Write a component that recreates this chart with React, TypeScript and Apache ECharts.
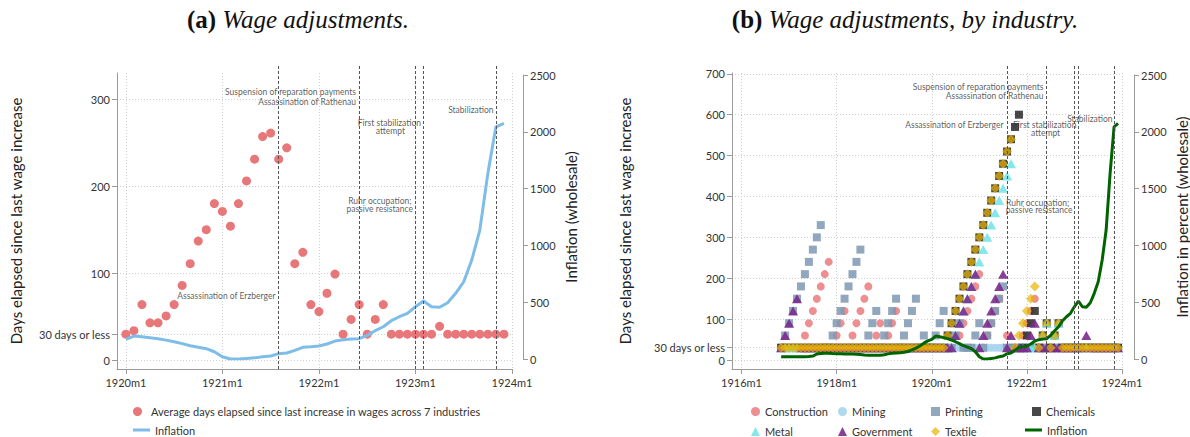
import * as echarts from 'echarts';
import { useEffect, useRef } from 'react';

const FONT = 'Lato, "Open Sans", sans-serif';
const SERIF = '"Liberation Serif", "DejaVu Serif", serif';

// x values are months counted from 1920m1 (= 0)
const LEFT_START = 0; // 1920m1
const RIGHT_START = -38; // 1916m11

// (a) average days since last wage increase, 1920m1 .. 1923m12
const AVG_DAYS = [
  30, 34, 64, 43, 43, 51, 64, 86, 111, 137, 150, 180,
  171, 154, 180, 206, 231, 257, 261, 231, 244, 111, 124, 64,
  56, 77, 99, 30, 47, 64, 30, 47, 64, 30, 30, 30,
  30, 30, 30, 39, 30, 30, 30, 30, 30, 30, 30, 30,
];

// wholesale inflation in percent, 1916m11 .. 1923m12
const INFLATION = [
  20, 20,
  20, 20, 20, 20, 20, 22, 26, 44, 48, 50, 50, 48,
  47, 46, 45, 45, 44, 42, 40, 36, 34, 33, 33, 34,
  38, 45, 50, 53, 56, 60, 66, 80, 95, 115, 140, 160,
  173, 202, 196, 188, 179, 166, 152, 135, 117, 104, 91, 64,
  20, 0, 0, 5, 10, 20, 26, 47, 53, 76, 103, 108,
  114, 132, 158, 170, 175, 179, 208, 249, 284, 337, 372, 402,
  460, 510, 460, 455, 495, 578, 680, 871, 1135, 1634, 2044, 2074,
];
const LEFT_INFLATION = INFLATION.slice(LEFT_START - RIGHT_START);

// (b) days since last increase by industry, 1916m11 .. 1923m12 (30 = "30 days or less")
const CONSTRUCTION = [
  30, 30,
  30, 30, 30, 30, 60, 90, 120, 150, 180, 210, 240, 30,
  60, 90, 120, 30, 60, 90, 120, 150, 180, 30, 60, 90,
  30, 60, 90, 120, 30, 30, 30, 30, 30, 30, 30, 30,
  30, 30, 30, 30, 30, 30, 30, 60, 90, 120, 150, 180,
  210, 30, 60, 90, 120, 150, 30, 60, 30, 30, 30, 60,
  90, 120, 150, 30, 30, 30, 30, 30, 30, 30, 30, 30,
  30, 30, 30, 30, 30, 30, 30, 30, 30, 30, 30, 30,
];
const MINING = [
  30, 30,
  30, 30, 30, 30, 30, 30, 30, 30, 30, 30, 30, 30,
  30, 30, 30, 30, 30, 30, 30, 30, 30, 30, 30, 30,
  30, 30, 30, 30, 30, 30, 30, 30, 30, 30, 30, 30,
  30, 30, 30, 30, 30, 30, 30, 30, 30, 30, 30, 30,
  30, 30, 30, 30, 30, 30, 30, 30, 30, 30, 30, 30,
  30, 30, 30, 30, 30, 30, 30, 30, 30, 30, 30, 30,
  30, 30, 30, 30, 30, 30, 30, 30, 30, 30, 30, 30,
];
const PRINTING = [
  30, 60,
  90, 120, 150, 180, 210, 240, 270, 300, 330, 30, 30, 60,
  90, 120, 150, 180, 210, 240, 270, 30, 60, 90, 120, 30,
  60, 90, 120, 150, 30, 60, 90, 120, 150, 30, 60, 30,
  30, 60, 90, 120, 30, 30, 60, 90, 30, 30, 30, 60,
  90, 30, 60, 90, 120, 150, 180, 30, 30, 30, 30, 30,
  30, 30, 30, 30, 30, 30, 30, 30, 30, 30, 30, 30,
  30, 30, 30, 30, 30, 30, 30, 30, 30, 30, 30, 30,
];
const CHEMICALS = [
  30, 30,
  30, 30, 30, 30, 30, 30, 30, 30, 30, 30, 30, 30,
  30, 30, 30, 30, 30, 30, 30, 30, 30, 30, 30, 30,
  30, 30, 30, 30, 30, 30, 30, 30, 30, 30, 30, 30,
  30, 30, 30, 30, 60, 90, 120, 150, 180, 210, 240, 270,
  300, 330, 360, 390, 420, 450, 480, 510, 540, 570, 600, 30,
  60, 90, 120, 30, 60, 90, 30, 60, 90, 30, 30, 30,
  30, 30, 30, 30, 30, 30, 30, 30, 30, 30, 30, 30,
];
const METAL = [
  30, 30,
  30, 30, 30, 30, 30, 30, 30, 30, 30, 30, 30, 30,
  30, 30, 30, 30, 30, 30, 30, 30, 30, 30, 30, 30,
  30, 30, 30, 30, 30, 30, 30, 30, 30, 30, 30, 30,
  30, 30, 30, 30, 30, 30, 60, 90, 120, 150, 180, 210,
  240, 270, 300, 330, 360, 390, 420, 450, 480, 30, 30, 30,
  30, 30, 30, 30, 60, 90, 30, 60, 90, 30, 30, 30,
  30, 30, 30, 30, 30, 30, 30, 30, 30, 30, 30, 30,
];
const GOVERNMENT = [
  30, 60,
  90, 120, 150, 30, 30, 30, 30, 30, 30, 30, 30, 30,
  30, 30, 30, 30, 30, 30, 30, 30, 30, 30, 30, 30,
  30, 30, 30, 30, 30, 30, 30, 30, 30, 30, 30, 30,
  30, 30, 30, 30, 30, 30, 60, 90, 120, 150, 180, 210,
  30, 60, 90, 120, 150, 180, 210, 30, 60, 30, 30, 30,
  30, 60, 90, 30, 30, 30, 30, 30, 30, 30, 30, 30,
  30, 30, 30, 60, 30, 30, 30, 30, 30, 30, 30, 30,
];
const TEXTILE = [
  30, 30,
  30, 30, 30, 30, 30, 30, 30, 30, 30, 30, 30, 30,
  30, 30, 30, 30, 30, 30, 30, 30, 30, 30, 30, 30,
  30, 30, 30, 30, 30, 30, 30, 30, 30, 30, 30, 30,
  30, 30, 30, 30, 60, 90, 120, 150, 180, 210, 240, 270,
  300, 330, 360, 390, 420, 450, 480, 510, 540, 30, 60, 90,
  120, 150, 180, 30, 60, 90, 30, 60, 90, 30, 30, 30,
  30, 30, 30, 30, 30, 30, 30, 30, 30, 30, 30, 30,
];

const LEFT_X_TICKS = [0, 12, 24, 36, 48];
const RIGHT_X_TICKS = [-48, -24, 0, 24, 48];
const LEFT_Y_TICKS = [0, 30, 100, 200, 300];
const RIGHT_Y_TICKS = [0, 30, 100, 200, 300, 400, 500, 600, 700];

// Erzberger, Rathenau, Ruhr, first stabilization attempt, stabilization
const EVENTS = [19, 29, 36, 37, 46];

const NOTES_A: [number, number, string][] = [
  [28.6, 308, 'Suspension of reparation payments'],
  [28.6, 297, 'Assassination of Rathenau'],
  [18.6, 74, 'Assassination of Erzberger'],
  [36.7, 272, 'First stabilization'],
  [34.7, 263, 'attempt'],
  [35.5, 183, 'Ruhr occupation;'],
  [35.7, 174, 'passive resistance'],
  [45.7, 288, 'Stabilization'],
];
const NOTES_B: [number, number, string][] = [
  [28.2, 667, 'Suspension of reparation payments'],
  [28.2, 646, 'Assassination of Rathenau'],
  [18.1, 576, 'Assassination of Erzberger'],
  [36.5, 576, 'First stabilization'],
  [32.4, 556, 'attempt'],
  [34.7, 385, 'Ruhr occupation;'],
  [35.5, 366, 'passive resistance'],
  [45.6, 590, 'Stabilization'],
];

const INDUSTRIES = [
  { name: 'Construction', values: CONSTRUCTION, symbol: 'circle', size: 8, color: '#ea7a7c', opacity: 0.85 },
  { name: 'Mining', values: MINING, symbol: 'circle', size: 8, color: '#a9d4ee', opacity: 0.9 },
  { name: 'Printing', values: PRINTING, symbol: 'rect', size: 8, color: '#7e98b3', opacity: 0.85 },
  { name: 'Chemicals', values: CHEMICALS, symbol: 'rect', size: 8, color: '#333333', opacity: 0.9 },
  { name: 'Metal', values: METAL, symbol: 'triangle', size: [10, 9], color: '#6fe3ea', opacity: 0.85 },
  { name: 'Government', values: GOVERNMENT, symbol: 'triangle', size: [10, 9], color: '#7b2a8c', opacity: 0.9 },
  { name: 'Textile', values: TEXTILE, symbol: 'diamond', size: [10, 10], color: '#e8b400', opacity: 0.7 },
];

const AVG_NAME = 'Average days elapsed since last increase in wages across 7 industries';

const monthLabel = (v: number) => `${1920 + Math.floor(v / 12)}m${(((v % 12) + 12) % 12) + 1}`;
const daysLabel = (v: number) => (v === 30 ? '30 days or less' : String(v));
const toPoints = (values: number[], start: number) => values.map((v, i) => [start + i, v]);

const AXIS_GREY = '#9a9a9a';
const axisLine = { show: true, onZero: false, lineStyle: { color: AXIS_GREY, width: 1 } };
const tick = { show: true, length: 5, lineStyle: { color: AXIS_GREY } };
const dotted = { show: true, lineStyle: { color: '#cfcfcf', type: [1, 2], width: 1 } };
const tickText = { color: '#333', fontSize: 11, fontFamily: FONT };
const nameText = { color: '#222', fontSize: 15, fontFamily: FONT };

function xMain(gridIndex: number, min: number, ticks: number[]) {
  return {
    gridIndex, type: 'value', min, max: 48,
    axisLine, axisTick: { ...tick, customValues: ticks },
    axisLabel: { ...tickText, customValues: ticks, formatter: monthLabel, margin: 8 },
    splitLine: dotted,
  };
}
function xHidden(gridIndex: number, min: number) {
  return { gridIndex, type: 'value', min, max: 48, show: false };
}
function yDays(gridIndex: number, min: number, max: number, ticks: number[], nameGap: number) {
  return {
    gridIndex, type: 'value', min, max,
    axisLine, axisTick: { ...tick, customValues: ticks },
    axisLabel: { ...tickText, customValues: ticks, formatter: daysLabel, margin: 7 },
    splitLine: dotted,
    name: 'Days elapsed since last wage increase', nameLocation: 'middle', nameGap, nameTextStyle: nameText,
  };
}
function yInflation(gridIndex: number, offset: number, name: string) {
  return {
    gridIndex, type: 'value', position: 'right', offset, min: 0, max: 2500, interval: 500,
    axisLine, axisTick: tick,
    axisLabel: { ...tickText, margin: 7, formatter: (v: number) => String(v) },
    splitLine: { show: false },
    name, nameLocation: 'middle', nameGap: 40, nameTextStyle: nameText,
  };
}
function notesSeries(xi: number, yi: number, notes: [number, number, string][]) {
  return {
    type: 'scatter', xAxisIndex: xi, yAxisIndex: yi, silent: true, clip: false,
    symbolSize: 1, itemStyle: { color: 'rgba(0,0,0,0)' },
    label: {
      show: true, position: 'inside', align: 'right', verticalAlign: 'middle',
      formatter: (p: any) => p.data[2], fontSize: 8.5, lineHeight: 8, color: '#333', fontFamily: FONT,
    },
    data: notes,
    z: 5,
  };
}
function eventsSeries(xi: number, yi: number) {
  return {
    type: 'scatter', xAxisIndex: xi, yAxisIndex: yi, silent: true,
    symbolSize: 0, data: EVENTS.map((m) => [m, 0]),
    markLine: {
      silent: true, symbol: ['none', 'none'], label: { show: false },
      lineStyle: { color: '#555', type: [3, 2], width: 1 },
      data: EVENTS.map((m) => ({ xAxis: m })),
    },
  };
}

const legendBase = {
  orient: 'vertical', itemGap: 9, itemHeight: 9, padding: 0, selectedMode: false,
  textStyle: { color: '#333', fontSize: 11, fontFamily: FONT, lineHeight: 9 },
};
const lineLegend = { ...legendBase, itemWidth: 17, itemHeight: 3, icon: 'rect' };

function buildOption() {
  const grids = [
    { left: 117, top: 73, width: 395, height: 296 },
    { left: 117, top: 75, width: 395, height: 284 },
    { left: 732, top: 73, width: 390, height: 296 },
    { left: 732, top: 75, width: 390, height: 284 },
    { left: 117, top: 65, width: 395, height: 304 },
    { left: 732, top: 65, width: 390, height: 304 },
  ].map((g) => ({ ...g, outerBoundsMode: 'none', containLabel: false }));

  const titleRich = (tag: string, text: string) => ({
    text: `{b|${tag}} {i|${text}}`,
    fontSize: 25, fontFamily: SERIF, fill: '#111',
    rich: {
      b: { fontWeight: 'bold', fontSize: 25, fontFamily: SERIF, fill: '#111' },
      i: { fontStyle: 'italic', fontSize: 25, fontFamily: SERIF, fill: '#111' },
    },
    align: 'center', verticalAlign: 'middle',
  });

  return {
    animation: false,
    backgroundColor: '#fff',
    graphic: [
      { type: 'text', x: 298, y: 19, style: titleRich('(a)', 'Wage adjustments.') },
      { type: 'text', x: 905, y: 19, style: titleRich('(b)', 'Wage adjustments, by industry.') },
    ],
    grid: grids,
    xAxis: [
      xMain(0, -1.1, LEFT_X_TICKS),
      xHidden(1, -1.1),
      xMain(2, -50.4, RIGHT_X_TICKS),
      xHidden(3, -50.4),
      xHidden(4, -1.1),
      xHidden(5, -50.4),
    ],
    yAxis: [
      yDays(0, -10, 330, LEFT_Y_TICKS, 94),
      yInflation(1, 11, 'Inflation (wholesale)'),
      yDays(2, -22, 702, RIGHT_Y_TICKS, 100),
      yInflation(3, 12, 'Inflation in percent (wholesale)'),
      { gridIndex: 4, type: 'value', min: 0, max: 1, show: false },
      { gridIndex: 5, type: 'value', min: 0, max: 1, show: false },
    ],
    legend: [
      { ...legendBase, left: 133, top: 406, itemWidth: 17, data: [AVG_NAME] },
      { ...lineLegend, left: 133, top: 424.5, data: ['Inflation'] },
      { ...legendBase, left: 751, top: 406, itemWidth: 9, data: ['Construction', 'Metal'] },
      { ...legendBase, left: 838, top: 406, itemWidth: 9, data: ['Mining', 'Government'] },
      { ...legendBase, left: 931, top: 406, itemWidth: 9, data: ['Printing', 'Textile'] },
      { ...legendBase, left: 1032, top: 406, itemWidth: 9, data: ['Chemicals'] },
      { ...lineLegend, left: 1025, top: 424.5, data: ['Inflation (b)'], formatter: () => 'Inflation' },
    ],
    series: [
      eventsSeries(4, 4),
      {
        name: AVG_NAME, type: 'scatter', xAxisIndex: 0, yAxisIndex: 0,
        symbol: 'circle', symbolSize: 9, itemStyle: { color: '#e8777a', opacity: 1 },
        data: toPoints(AVG_DAYS, LEFT_START),
      },
      {
        name: 'Inflation', type: 'line', xAxisIndex: 1, yAxisIndex: 1, symbol: 'none',
        lineStyle: { color: '#7dbde8', width: 3 }, itemStyle: { color: '#7dbde8' },
        data: toPoints(LEFT_INFLATION, LEFT_START), z: 3,
      },
      notesSeries(0, 0, NOTES_A),
      eventsSeries(5, 5),
      ...INDUSTRIES.map((ind) => ({
        name: ind.name, type: 'scatter', xAxisIndex: 2, yAxisIndex: 2,
        symbol: ind.symbol, symbolSize: ind.size,
        itemStyle: { color: ind.color, opacity: ind.opacity },
        data: toPoints(ind.values, RIGHT_START),
      })),
      {
        name: 'Inflation (b)', type: 'line', xAxisIndex: 3, yAxisIndex: 3, symbol: 'none',
        lineStyle: { color: '#006400', width: 3 }, itemStyle: { color: '#006400' },
        data: toPoints(INFLATION, RIGHT_START), z: 4,
      },
      notesSeries(2, 2, NOTES_B),
    ],
  };
}

export default function App() {
  const chartRef = useRef<HTMLDivElement>(null);

  useEffect(() => {
    document.body.style.margin = '0';
    if (!chartRef.current) return;
    const chart = echarts.init(chartRef.current, null, { renderer: 'svg' });
    chart.setOption(buildOption() as any);
    return () => chart.dispose();
  }, []);

  return <div ref={chartRef} style={{ width: 1190, height: 437 }} />;
}
